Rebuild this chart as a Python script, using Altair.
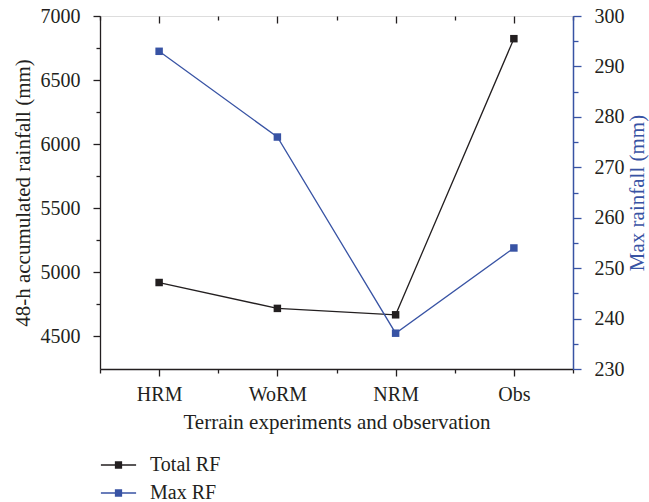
import json
import altair as alt
import pandas as pd

categories = ["HRM", "WoRM", "NRM", "Obs"]
total_rf = [4920, 4718, 4668, 6823]
max_rf = [293.0, 276.0, 237.1, 254.0]
series_names = ["Total RF", "Max RF"]
series_colors = ["#231f20", "#3853a4"]
left_ticks = [4500, 4750, 5000, 5250, 5500, 5750, 6000, 6250, 6500, 6750, 7000]
right_ticks = [230, 235, 240, 245, 250, 255, 260, 265, 270, 275, 280, 285, 290, 295, 300]
x_major = [0, 1, 2, 3]
x_minor = [-0.5, 0.5, 1.5, 2.5, 3.5]

rows = []
for i, c in enumerate(categories):
    rows.append({"idx": i, "category": c, "series": series_names[0], "value": total_rf[i]})
    rows.append({"idx": i, "category": c, "series": series_names[1], "value": max_rf[i]})
df = pd.DataFrame(rows)

FONT = "Liberation Serif"
BLACK = "#231f20"
BLUE = "#3853a4"
W, H = 473, 353

xscale = alt.Scale(domain=[-0.5, 3.5], nice=False, zero=False)

sym_path = "M-1.6,0H1.6" + "".join(
    f"M-0.33,{y}H0.33" for y in ["-0.28", "-0.2", "-0.12", "-0.04", "0.04", "0.12", "0.2", "0.28"]
)

color = alt.Color(
    "series:N",
    scale=alt.Scale(domain=series_names, range=series_colors),
    sort=series_names,
    legend=alt.Legend(
        title=None, orient="none", legendX=6.5, legendY=437, direction="vertical",
        symbolType=sym_path, symbolSize=484, symbolStrokeWidth=1.3,
        labelFont=FONT, labelFontSize=20, labelColor=BLACK, labelOffset=19.5,
        rowPadding=6, padding=0, symbolOffset=0,
    ),
)

bottom_axis = alt.Axis(
    orient="bottom", values=sorted(x_major + x_minor), grid=False,
    labelExpr=f"datum.value % 1 === 0 ? {json.dumps(categories)}[datum.value] : ''",
    tickSize={"condition": {"test": "datum.value % 1 === 0", "value": 7}, "value": 4},
    labelFont=FONT, labelFontSize=20, labelColor=BLACK, labelBaseline="alphabetic",
    labelPadding=24.7, labelAngle=0,
    domainColor=BLACK, domainWidth=1.3, tickColor=BLACK, tickWidth=1.3,
    title="Terrain experiments and observation", titleFont=FONT, titleFontSize=21,
    titleFontWeight="normal", titleColor=BLACK, titleBaseline="alphabetic", titleY=59,
)

top_major_axis = alt.Axis(
    orient="top", values=x_major, grid=False, labels=False, domain=False,
    tickSize=7, offset=-7, tickColor=BLACK, tickWidth=1.3, title=None,
)
top_minor_axis = alt.Axis(
    orient="top", values=x_minor, grid=False, labels=False, domain=False,
    tickSize=4, offset=-4, tickColor=BLACK, tickWidth=1.3, title=None,
)

left_axis = alt.Axis(
    orient="left", values=left_ticks, format="d", grid=False,
    labelExpr="datum.value % 500 === 0 ? datum.label : ''",
    tickSize={"condition": {"test": "datum.value % 500 === 0", "value": 7}, "value": 4},
    labelFont=FONT, labelFontSize=20, labelColor=BLACK, labelPadding=13,
    domainColor=BLACK, domainWidth=1.3, tickColor=BLACK, tickWidth=1.3,
    title="48-h accumulated rainfall (mm)", titleFont=FONT, titleFontSize=21,
    titleFontWeight="normal", titleColor=BLACK, titleAngle=270, titleAlign="center",
    titleBaseline="middle", titleX=-77, titleY=H / 2,
)

right_axis = alt.Axis(
    orient="right", values=right_ticks, format="d", grid=False,
    labelExpr="datum.value % 10 === 0 ? datum.label : ''",
    tickSize={"condition": {"test": "datum.value % 10 === 0", "value": 8}, "value": 5},
    labelFont=FONT, labelFontSize=20, labelColor=BLACK, labelPadding=13,
    domainColor=BLUE, domainWidth=1.5, tickColor=BLUE, tickWidth=1.3,
    title="Max rainfall (mm)", titleFont=FONT, titleFontSize=21,
    titleFontWeight="normal", titleColor=BLUE, titleAngle=270, titleAlign="center",
    titleBaseline="middle", titleX=64, titleY=H / 2,
)

point_def = alt.OverlayMarkDef(shape="square", filled=True, size=56, opacity=1)

total_layer = alt.Chart(df).transform_filter(
    alt.datum.series == series_names[0]
).mark_line(strokeWidth=1.3, point=point_def).encode(
    x=alt.X("idx:Q", scale=xscale, axis=bottom_axis),
    y=alt.Y("value:Q", scale=alt.Scale(domain=[4245, 7000], nice=False, zero=False), axis=left_axis),
    color=color,
)

max_layer = alt.Chart(df).transform_filter(
    alt.datum.series == series_names[1]
).mark_line(strokeWidth=1.3, point=point_def).encode(
    x=alt.X("idx:Q", scale=xscale, axis=top_major_axis),
    y=alt.Y("value:Q", scale=alt.Scale(domain=[230, 300], nice=False, zero=False), axis=right_axis),
    color=color,
)

minor_layer = alt.Chart(df).mark_point(opacity=0).encode(
    x=alt.X("idx:Q", scale=xscale, axis=top_minor_axis),
)

chart = alt.layer(total_layer, max_layer, minor_layer).resolve_scale(
    y="independent"
).resolve_axis(x="independent", y="independent").properties(
    width=W, height=H,
    padding={"left": 100, "top": 16, "right": 76, "bottom": 133},
    autosize=alt.AutoSizeParams(type="none"),
).configure_view(stroke=BLACK, strokeWidth=1.3).configure(background="white")

chart.save("out.html", embed_options={"renderer": "svg", "actions": False})
